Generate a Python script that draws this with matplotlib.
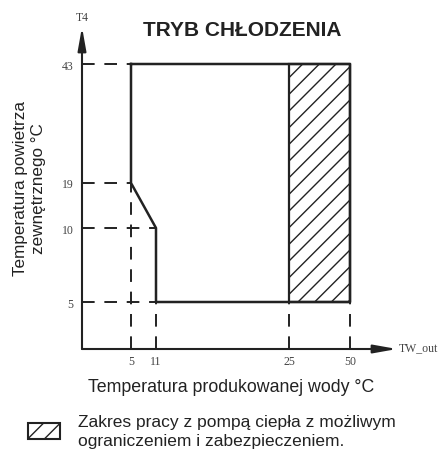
import numpy as np
import matplotlib
matplotlib.use("Agg")
import matplotlib.pyplot as plt
from matplotlib.patches import Rectangle, Patch

plt.rcParams['font.family'] = ['Liberation Sans', 'DejaVu Sans']
plt.rcParams['hatch.linewidth'] = 1.0

# wartosci na osiach
x_ticks = [5, 11, 25, 50]
y_ticks = [5, 10, 19, 43]

# granica obszaru pracy (TW_out, T4)
border_x = [5, 50, 50, 11, 11, 5, 5]
border_y = [43, 43, 5, 5, 10, 19, 43]

# obszar z ograniczeniem
hatch_x = [25, 50]
hatch_y = [5, 43]

# linie pomocnicze: (wartosc, koniec)
h_guides = [(43, 5), (19, 5), (10, 11), (5, 11)]
v_guides = [(5, 19), (11, 5), (25, 5), (50, 5)]

title = "TRYB CHŁODZENIA"
ylab = "Temperatura powietrza\nzewnętrznego °C"
xlab = "Temperatura produkowanej wody °C"
leg_text = "Zakres pracy z pompą ciepła z możliwym\nograniczeniem i zabezpieczeniem."

# skala nieliniowa osi (jak na oryginalnym rysunku)
x_brk = [0, 5, 11, 25, 50, 60]
x_pix = [0, 49, 74, 207, 268, 315]
y_brk = [0, 5, 10, 19, 43, 50]
y_pix = [0, 47, 121, 166, 285, 322]

W, H = 438, 460
fig = plt.figure(figsize=(W / 100, H / 100), dpi=100)
ax = fig.add_axes([82 / W, 1 - 350 / H, 315 / W, 322 / H])

ax.set_xscale('function', functions=(lambda v: np.interp(v, x_brk, x_pix),
                                     lambda p: np.interp(p, x_pix, x_brk)))
ax.set_yscale('function', functions=(lambda v: np.interp(v, y_brk, y_pix),
                                     lambda p: np.interp(p, y_pix, y_brk)))
ax.set_xlim(0, 60)
ax.set_ylim(0, 50)
for s in ax.spines.values():
    s.set_visible(False)

dash = (0, (6.5, 5))
for yv, xe in h_guides:
    ax.plot([0, xe], [yv, yv], color='#222222', lw=1.4, linestyle=dash)
for xv, ye in v_guides:
    ax.plot([xv, xv], [0, ye], color='#222222', lw=1.4, linestyle=dash)

ax.add_patch(Rectangle((hatch_x[0], hatch_y[0]), hatch_x[1] - hatch_x[0],
                       hatch_y[1] - hatch_y[0], fill=False, hatch='//',
                       edgecolor='#222222', lw=1.6))
ax.plot(border_x, border_y, color='#222222', lw=1.8)

# osie ze strzalkami
arr = dict(arrowstyle='-|>,head_length=1.4,head_width=0.25', lw=1.5,
           color='#222222', shrinkA=0, shrinkB=0)
ax.annotate('', xy=(60, 0), xytext=(0, 0), arrowprops=arr, annotation_clip=False)
ax.annotate('', xy=(0, 50), xytext=(0, 0), arrowprops=arr, annotation_clip=False)
ax.annotate('T4', xy=(0, 50), xytext=(0, 3), textcoords='offset points',
            ha='center', va='bottom', fontsize=8.5, family='Liberation Serif',
            color='#444444', annotation_clip=False)
ax.annotate('TW_out', xy=(60, 0), xytext=(1.5, 1.5), textcoords='offset points',
            ha='left', va='center', fontsize=8.5, family='Liberation Serif',
            color='#444444', annotation_clip=False)

ax.set_xticks(x_ticks)
ax.set_yticks(y_ticks)
ax.tick_params(length=0, labelsize=8.5, colors='#444444')
ax.tick_params(axis='x', pad=4)
ax.tick_params(axis='y', pad=6)
for lbl in ax.get_xticklabels() + ax.get_yticklabels():
    lbl.set_family('Liberation Serif')

fig.text(242 / W, 1 - 31 / H, title, ha='center', va='center',
         fontsize=15, fontweight='bold', color='#222222')
fig.text(29.5 / W, 1 - 189 / H, ylab, rotation=90, ha='center', va='center',
         multialignment='center', fontsize=12.3, linespacing=1.23,
         color='#222222')
fig.text(231 / W, 1 - 387 / H, xlab, ha='center', va='center',
         fontsize=12.8, color='#222222')

h = Patch(facecolor='white', edgecolor='#222222', hatch='//', lw=1.5)
leg = fig.legend(handles=[h], labels=[leg_text], loc='center left',
                 bbox_to_anchor=(28 / W, 1 - 432 / H), frameon=False,
                 fontsize=12.5, handlelength=1.84, handleheight=0.98,
                 handletextpad=1.03, borderpad=0, borderaxespad=0,
                 labelcolor='#222222')
leg.get_texts()[0].set_linespacing(1.35)

fig.savefig('out.png', dpi=100)
